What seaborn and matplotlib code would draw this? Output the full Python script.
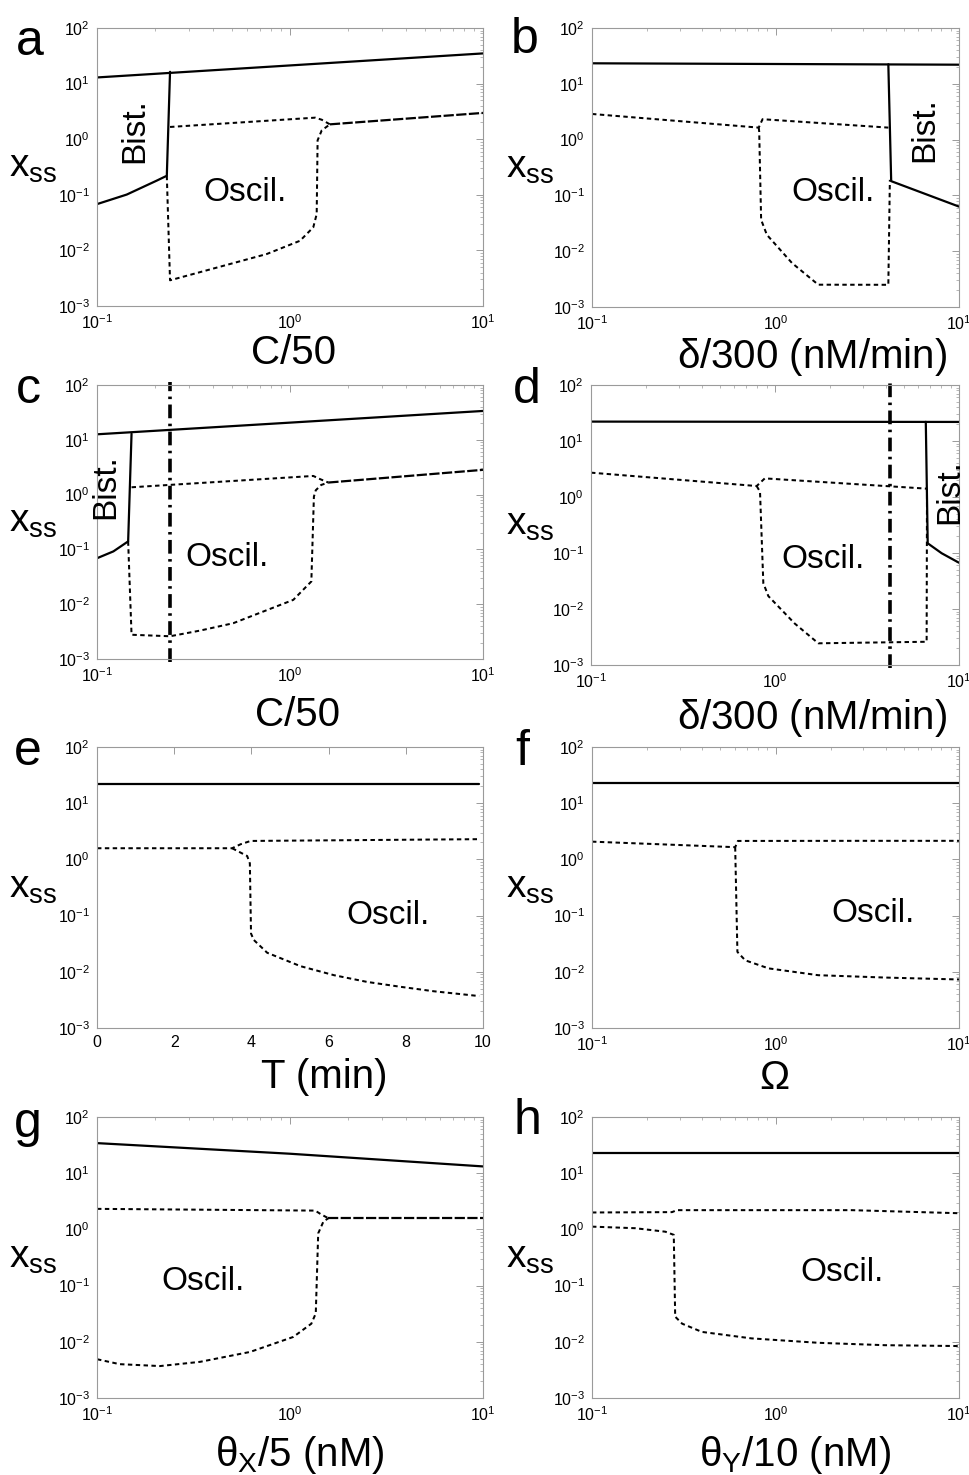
import matplotlib
matplotlib.use("Agg")
import matplotlib.pyplot as plt
import seaborn as sns
from matplotlib.ticker import LogLocator, NullFormatter

# ---- panel a: C/50 ----
A_HI_X = [0.1, 10]
A_HI_Y = [12.9, 34.9]
A_LO_X = [0.1, 0.1426, 0.204, 0.23, 0.239]
A_LO_Y = [0.068, 0.101, 0.18, 0.22, 16.3]
A_TOP_X = [0.239, 1.35, 1.46, 1.61]
A_TOP_Y = [1.66, 2.44, 2.24, 1.85]
A_LOOP_X = [0.23, 0.239, 0.417, 0.757, 1.127, 1.32, 1.375, 1.39, 1.46, 1.61]
A_LOOP_Y = [0.22, 0.0029, 0.0049, 0.0086, 0.0149, 0.026, 0.045, 0.955, 1.44, 1.85]
A_DASH_X = [1.61, 10]
A_DASH_Y = [1.85, 2.97]

# ---- panel b: delta/300 ----
B_HI_X = [0.1, 10]
B_HI_Y = [23.3, 22.0]
B_LO_X = [4.12, 4.27, 10]
B_LO_Y = [22.4, 0.18, 0.063]
B_TOP_X = [0.1, 0.81, 0.85, 4.12]
B_TOP_Y = [2.88, 1.64, 2.32, 1.64]
B_LOOP_X = [0.81, 0.815, 0.835, 0.897, 1.23, 1.71, 4.12, 4.2]
B_LOOP_Y = [1.64, 1.39, 0.0366, 0.0197, 0.00614, 0.00251, 0.0025, 0.19]

# ---- panel c: C/50 with marker line ----
C_HI_X = [0.1, 10]
C_HI_Y = [12.6, 33.6]
C_LO_X = [0.1, 0.1216, 0.145, 0.151]
C_LO_Y = [0.069, 0.092, 0.14, 12.9]
C_TOP_X = [0.151, 1.32, 1.44, 1.58]
C_TOP_Y = [1.36, 2.19, 1.9, 1.66]
C_LOOP_X = [0.145, 0.151, 0.239, 0.342, 0.508, 1.04, 1.29, 1.33, 1.36, 1.45, 1.58]
C_LOOP_Y = [0.14, 0.00277, 0.0026, 0.0033, 0.0045, 0.012, 0.026, 0.92, 1.2, 1.5, 1.66]
C_DASH_X = [1.58, 10]
C_DASH_Y = [1.66, 2.83]
C_MARK = 0.239

# ---- panel d: delta/300 with marker line ----
D_HI_X = [0.1, 10]
D_HI_Y = [22.2, 21.9]
D_LO_X = [6.6, 6.76, 8.05, 10]
D_LO_Y = [22.0, 0.149, 0.099, 0.067]
D_TOP_X = [0.1, 0.795, 0.88, 6.67]
D_TOP_Y = [2.72, 1.57, 2.15, 1.41]
D_LOOP_X = [0.795, 0.829, 0.864, 0.92, 1.28, 1.72, 6.67, 6.7]
D_LOOP_Y = [1.57, 1.24, 0.029, 0.017, 0.0055, 0.00244, 0.0026, 1.41]
D_MARK = 4.22

# ---- panel e: T (min), linear x ----
E_HI_X = [0, 9.9]
E_HI_Y = [22.2, 22.2]
E_TOP_X = [0, 3.5, 3.72, 3.98, 9.9]
E_TOP_Y = [1.58, 1.58, 1.86, 2.13, 2.29]
E_LOOP_X = [3.5, 3.89, 3.96, 3.99, 4.06, 4.41, 5.27, 6.14, 7.0, 7.87, 8.73, 9.9]
E_LOOP_Y = [1.58, 1.15, 0.85, 0.048, 0.037, 0.0218, 0.0126, 0.0087, 0.0066, 0.0054, 0.0045, 0.0037]

# ---- panel f: Omega ----
F_HI_X = [0.1, 10]
F_HI_Y = [22.8, 22.8]
F_TOP_X = [0.1, 0.603, 0.624, 3.0, 10]
F_TOP_Y = [2.07, 1.65, 2.13, 2.14, 2.14]
F_LOOP_X = [0.603, 0.62, 0.684, 0.917, 1.71, 3.95, 10]
F_LOOP_Y = [1.65, 0.0226, 0.016, 0.0115, 0.0087, 0.0079, 0.0073]

# ---- panel g: theta_X/5 ----
G_HI_X = [0.1, 1.0, 10]
G_HI_Y = [34.3, 22.2, 13.2]
G_TOP_X = [0.1, 1.35, 1.45, 1.58]
G_TOP_Y = [2.32, 2.16, 1.85, 1.58]
G_LOOP_X = [0.1, 0.131, 0.212, 0.342, 0.621, 1.04, 1.29, 1.36, 1.40, 1.49, 1.58]
G_LOOP_Y = [0.0049, 0.004, 0.0037, 0.0044, 0.0066, 0.0122, 0.021, 0.032, 0.85, 1.38, 1.58]
G_DASH_X = [1.58, 10]
G_DASH_Y = [1.58, 1.58]

# ---- panel h: theta_Y/10 ----
H_HI_X = [0.1, 10]
H_HI_Y = [22.8, 22.8]
H_TOP_X = [0.1, 0.273, 0.29, 2.6, 10]
H_TOP_Y = [2.0, 2.03, 2.2, 2.2, 1.94]
H_LOOP_X = [0.1, 0.172, 0.251, 0.279, 0.284, 0.31, 0.397, 0.74, 1.71, 3.95, 10]
H_LOOP_Y = [1.12, 1.05, 0.91, 0.8, 0.028, 0.021, 0.015, 0.0115, 0.0096, 0.0087, 0.0084]

XLABELS = ["C/50", r"$\delta$/300 (nM/min)", "C/50", r"$\delta$/300 (nM/min)",
           "T (min)", r"$\Omega$", r"$\theta_X$/5 (nM)", r"$\theta_Y$/10 (nM)"]
LETTERS = ["a", "b", "c", "d", "e", "f", "g", "h"]

SOLID = dict(color="black", lw=1.6, linestyle="-")
DOT = dict(color="black", lw=1.45, linestyle=(0, (2.2, 1.7)))
DASH = dict(color="black", lw=1.6, linestyle=(0, (4.6, 1.1)))
MARK = dict(color="black", lw=2.6, linestyle=(0, (3.8, 1.5, 0.7, 1.5)))

sns.set_theme(style="white")
plt.rcParams["font.family"] = ["Liberation Sans", "DejaVu Sans"]
plt.rcParams["mathtext.fontset"] = "stix"
plt.rcParams["mathtext.default"] = "regular"
plt.rcParams["text.color"] = "black"
plt.rcParams["axes.labelcolor"] = "black"

W, H = 970, 1475
fig = plt.figure(figsize=(W / 100, H / 100), dpi=100)

# axes boxes in pixels: left, top, right, bottom
boxes = [(97, 28, 483, 306), (592, 28, 959, 307),
         (97, 385, 483, 659), (591, 385, 959, 665),
         (97, 747, 483, 1028), (592, 747, 959, 1028),
         (97, 1117, 483, 1398), (592, 1117, 959, 1398)]

# xlabel centre (axes fraction x, pixels below axes)
xlabel_pos = [(0.508, 47), (0.60, 50), (0.52, 56), (0.60, 53),
              (0.59, 49), (0.496, 50), (0.526, 57), (0.553, 57)]
letter_px = [(30, 42), (525, 40), (28, 390), (527, 390),
             (28, 752), (522, 752), (28, 1124), (527, 1121)]

curves = [
    [(A_HI_X, A_HI_Y, SOLID), (A_LO_X, A_LO_Y, SOLID), (A_TOP_X, A_TOP_Y, DOT),
     (A_LOOP_X, A_LOOP_Y, DOT), (A_DASH_X, A_DASH_Y, DASH)],
    [(B_HI_X, B_HI_Y, SOLID), (B_LO_X, B_LO_Y, SOLID), (B_TOP_X, B_TOP_Y, DOT),
     (B_LOOP_X, B_LOOP_Y, DOT)],
    [(C_HI_X, C_HI_Y, SOLID), (C_LO_X, C_LO_Y, SOLID), (C_TOP_X, C_TOP_Y, DOT),
     (C_LOOP_X, C_LOOP_Y, DOT), (C_DASH_X, C_DASH_Y, DASH)],
    [(D_HI_X, D_HI_Y, SOLID), (D_LO_X, D_LO_Y, SOLID), (D_TOP_X, D_TOP_Y, DOT),
     (D_LOOP_X, D_LOOP_Y, DOT)],
    [(E_HI_X, E_HI_Y, SOLID), (E_TOP_X, E_TOP_Y, DOT), (E_LOOP_X, E_LOOP_Y, DOT)],
    [(F_HI_X, F_HI_Y, SOLID), (F_TOP_X, F_TOP_Y, DOT), (F_LOOP_X, F_LOOP_Y, DOT)],
    [(G_HI_X, G_HI_Y, SOLID), (G_TOP_X, G_TOP_Y, DOT), (G_LOOP_X, G_LOOP_Y, DOT),
     (G_DASH_X, G_DASH_Y, DASH)],
    [(H_HI_X, H_HI_Y, SOLID), (H_TOP_X, H_TOP_Y, DOT), (H_LOOP_X, H_LOOP_Y, DOT)],
]
marks = {2: C_MARK, 3: D_MARK}

# region annotations: (text, x frac, y frac, rotation)
notes = {
    0: [("Bist.", 0.098, 0.632, 90), ("Oscil.", 0.383, 0.408, 0)],
    1: [("Bist.", 0.907, 0.634, 90), ("Oscil.", 0.657, 0.412, 0)],
    2: [("Bist.", 0.022, 0.628, 90), ("Oscil.", 0.337, 0.369, 0)],
    3: [("Bist.", 0.976, 0.618, 90), ("Oscil.", 0.63, 0.375, 0)],
    4: [("Oscil.", 0.754, 0.402, 0)],
    5: [("Oscil.", 0.766, 0.409, 0)],
    6: [("Oscil.", 0.275, 0.413, 0)],
    7: [("Oscil.", 0.681, 0.445, 0)],
}

for i, (l, t, r, b) in enumerate(boxes):
    ax = fig.add_axes([l / W, 1 - b / H, (r - l) / W, (b - t) / H])
    ax.set_yscale("log")
    if i == 4:
        ax.set_xlim(0, 10)
        ax.set_xticks([0, 2, 4, 6, 8, 10])
    else:
        ax.set_xscale("log")
        ax.set_xlim(0.1, 10)
        ax.xaxis.set_minor_locator(LogLocator(base=10, subs=range(2, 10)))
        ax.xaxis.set_minor_formatter(NullFormatter())
    ax.set_ylim(1e-3, 1e2)
    ax.yaxis.set_major_locator(LogLocator(base=10, numticks=10))
    ax.yaxis.set_minor_locator(LogLocator(base=10, subs=range(2, 10), numticks=20))
    ax.yaxis.set_minor_formatter(NullFormatter())

    for xs, ys, st in curves[i]:
        sns.lineplot(x=xs, y=ys, ax=ax, sort=False, estimator=None, **st)

    if i in marks:
        ax.axvline(marks[i], ymin=-0.01, ymax=1.01, clip_on=False, **MARK)

    for txt, fx, fy, rot in notes[i]:
        ax.text(fx, fy, txt, transform=ax.transAxes, rotation=rot,
                ha="center", va="center", fontsize=24)

    for sp in ax.spines.values():
        sp.set_color("#9a9a9a")
        sp.set_linewidth(0.8)
    ax.tick_params(which="both", direction="in", top=True, right=True,
                   color="#9a9a9a", labelsize=11.5, labelcolor="black")
    ax.tick_params(which="major", length=5, width=0.7)
    ax.tick_params(which="minor", length=2.5, width=0.5)
    ax.tick_params(axis="y", pad=5)
    ax.tick_params(axis="x", pad=5)

    ax.set_ylabel("x$_{ss}$", rotation=0, fontsize=28, va="center", ha="center")
    ax.yaxis.set_label_coords(((33 if l < 300 else 530) - l) / (r - l), 0.5)

    fx, below = xlabel_pos[i]
    ax.set_xlabel(XLABELS[i], fontsize=29)
    ax.xaxis.label.set_va("center")
    ax.xaxis.set_label_coords(fx, -below / (b - t))

    lx, ly = letter_px[i]
    fig.text(lx / W, 1 - ly / H, LETTERS[i], fontsize=36, ha="center", va="center")

fig.savefig("out.png", dpi=100)
